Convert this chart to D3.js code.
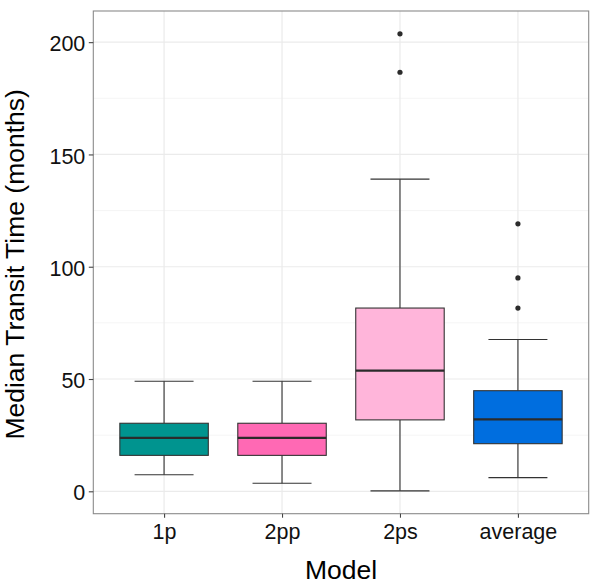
<!DOCTYPE html>
<html><head><meta charset="utf-8">
<script src="https://cdn.jsdelivr.net/npm/d3@7"></script>
<style>body{margin:0;background:#fff;}svg{display:block;}text{font-family:"Liberation Sans",Arial,sans-serif;}</style>
</head><body><div id="chart"></div>
<script>
const categories = ["1p","2pp","2ps","average"];
const whiskerLow = [7.4, 3.6, 0.2, 6.1];
const q1 = [16.0, 16.0, 31.8, 21.2];
const median = [23.8, 23.8, 53.7, 32.0];
const q3 = [30.3, 30.3, 81.6, 44.8];
const whiskerHigh = [49.0, 49.0, 139.0, 67.6];
const outliers = [[], [], [186.6, 203.7], [81.6, 95.0, 119.1]];
const fills = ["#00948F", "#FF69B4", "#FFB5DA", "#006EDF"];
const yTicks = [0, 50, 100, 150, 200];
const yMinor = [25, 75, 125, 175];

const W = 600, H = 586;
const m = {left: 93.3, right: 11.3, top: 11, bottom: 72.3};
const svg = d3.select("#chart").append("svg").attr("width", W).attr("height", H);
const pw = W - m.left - m.right, ph = H - m.top - m.bottom;
const g = svg.append("g").attr("transform", `translate(${m.left},${m.top})`);

const dataMax = 203.7, dataMin = 0.2;
const span = dataMax - dataMin;
const y = d3.scaleLinear().domain([dataMin - 0.05*span, dataMax + 0.05*span]).range([ph, 0]);
const unit = pw / (categories.length - 1 + 1.2);
const x = d3.scalePoint().domain(categories).range([0.6*unit, pw - 0.6*unit]);

// grid
g.selectAll(".minor").data(yMinor).enter().append("line")
  .attr("x1", 0).attr("x2", pw).attr("y1", d => y(d)).attr("y2", d => y(d))
  .attr("stroke", "#F3F3F3").attr("stroke-width", 0.8);
g.selectAll(".major").data(yTicks).enter().append("line")
  .attr("x1", 0).attr("x2", pw).attr("y1", d => y(d)).attr("y2", d => y(d))
  .attr("stroke", "#EBEBEB").attr("stroke-width", 1.2);
g.selectAll(".vmajor").data(categories).enter().append("line")
  .attr("x1", d => x(d)).attr("x2", d => x(d)).attr("y1", 0).attr("y2", ph)
  .attr("stroke", "#EBEBEB").attr("stroke-width", 1.2);

const boxW = 0.75 * unit, capW = 0.5 * unit;
const stroke = "#333333";
categories.forEach((c, i) => {
  const cx = x(c);
  const bg = g.append("g");
  bg.append("line").attr("x1", cx).attr("x2", cx).attr("y1", y(whiskerHigh[i])).attr("y2", y(q3[i])).attr("stroke", stroke).attr("stroke-width", 1.1);
  bg.append("line").attr("x1", cx).attr("x2", cx).attr("y1", y(q1[i])).attr("y2", y(whiskerLow[i])).attr("stroke", stroke).attr("stroke-width", 1.1);
  bg.append("line").attr("x1", cx - capW/2).attr("x2", cx + capW/2).attr("y1", y(whiskerHigh[i])).attr("y2", y(whiskerHigh[i])).attr("stroke", stroke).attr("stroke-width", 1.1);
  bg.append("line").attr("x1", cx - capW/2).attr("x2", cx + capW/2).attr("y1", y(whiskerLow[i])).attr("y2", y(whiskerLow[i])).attr("stroke", stroke).attr("stroke-width", 1.1);
  bg.append("rect").attr("x", cx - boxW/2).attr("width", boxW)
    .attr("y", y(q3[i])).attr("height", y(q1[i]) - y(q3[i]))
    .attr("fill", fills[i]).attr("stroke", stroke).attr("stroke-width", 1.1);
  bg.append("line").attr("x1", cx - boxW/2).attr("x2", cx + boxW/2).attr("y1", y(median[i])).attr("y2", y(median[i])).attr("stroke", "#2b2b2b").attr("stroke-width", 2.2);
  bg.selectAll("circle").data(outliers[i]).enter().append("circle")
    .attr("cx", cx).attr("cy", d => y(d)).attr("r", 2.6).attr("fill", "#2b2b2b");
});

// border
g.append("rect").attr("x", 0).attr("y", 0).attr("width", pw).attr("height", ph)
  .attr("fill", "none").attr("stroke", "#8a8a8a").attr("stroke-width", 1.1);

// axes
const yAxis = g.append("g").call(d3.axisLeft(y).tickValues(yTicks).tickSize(4.5).tickPadding(3.5))
  .attr("font-family", null).attr("font-size", null);
yAxis.select(".domain").remove();
yAxis.selectAll("line").attr("stroke", "#444").attr("stroke-width", 1.1);
yAxis.selectAll("text").attr("fill", "#111").attr("dy", "0.4em").style("font-size", "21.5px");

const xAxis = g.append("g").attr("transform", `translate(0,${ph})`).call(d3.axisBottom(x).tickSize(4).tickPadding(6))
  .attr("font-family", null).attr("font-size", null);
xAxis.select(".domain").remove();
xAxis.selectAll("line").attr("stroke", "#444").attr("stroke-width", 1.1);
xAxis.selectAll("text").attr("fill", "#111").style("font-size", "21.5px");

svg.append("text").attr("x", m.left + pw/2).attr("y", 579).attr("text-anchor", "middle")
  .style("font-size", "26.5px").attr("fill", "#000").text("Model");
svg.append("text").attr("transform", `translate(24,${m.top + ph/2 + 2}) rotate(-90)`).attr("text-anchor", "middle")
  .style("font-size", "26.5px").attr("fill", "#000").text("Median Transit Time (months)");
</script></body></html>
